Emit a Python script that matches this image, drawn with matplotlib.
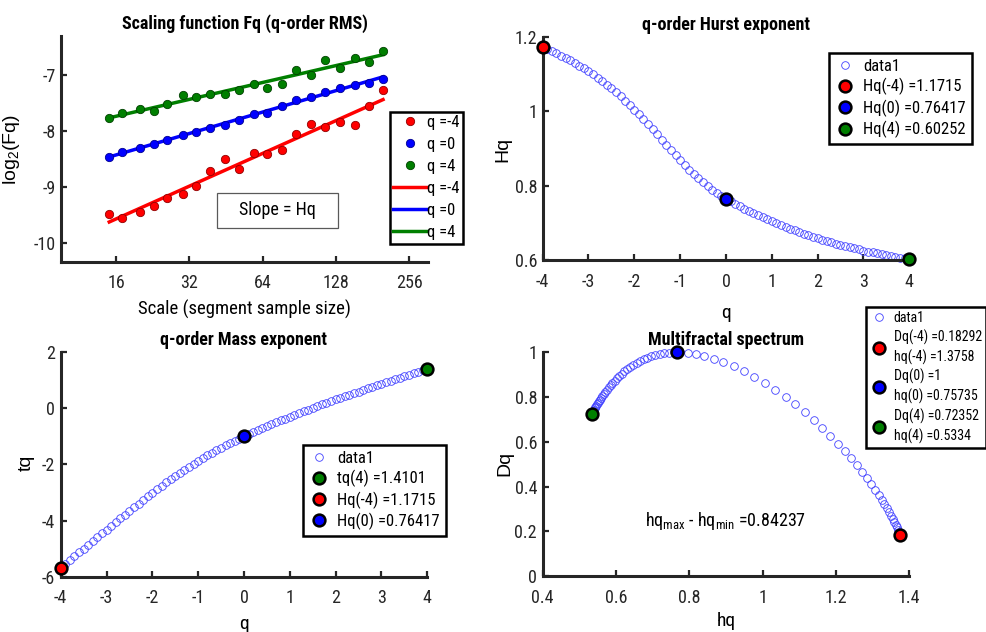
import numpy as np
import matplotlib
matplotlib.use('Agg')
from matplotlib import pyplot as plt
from matplotlib.patches import Rectangle
from matplotlib.ticker import FuncFormatter, NullLocator

# scaling function (log2 Fq) against segment size
scale = [15, 17, 20, 23, 26, 30, 34, 39, 45, 51, 59, 67, 77, 88, 101, 116, 133, 153, 175, 200]
logFq_qm4 = [-9.475, -9.546, -9.445, -9.338, -9.188, -9.117, -8.986, -8.717, -8.503, -8.676,
             -8.395, -8.401, -8.330, -8.049, -7.877, -7.930, -7.835, -7.894, -7.549, -7.268]
logFq_q0 = [-8.455, -8.371, -8.300, -8.222, -8.163, -8.067, -8.014, -7.948, -7.883, -7.805,
            -7.698, -7.674, -7.549, -7.447, -7.388, -7.298, -7.221, -7.167, -7.131, -7.060]
logFq_q4 = [-7.763, -7.680, -7.608, -7.638, -7.519, -7.346, -7.382, -7.334, -7.340, -7.262,
            -7.161, -7.233, -7.155, -6.899, -7.000, -6.732, -6.863, -6.690, -6.761, -6.565]

# q-order Hurst exponent, q = -4:0.1:4
q = np.linspace(-4, 4, 81)
Hq = np.array([1.1715, 1.1663, 1.1608, 1.1551, 1.1492, 1.1430, 1.1365, 1.1297, 1.1226, 1.1151,
               1.1073, 1.0990, 1.0903, 1.0812, 1.0716, 1.0615, 1.0510, 1.0400, 1.0285, 1.0166,
               1.0043, 0.9915, 0.9785, 0.9652, 0.9516, 0.9378, 0.9238, 0.9100, 0.8962, 0.8826,
               0.8690, 0.8558, 0.8431, 0.8310, 0.8195, 0.8085, 0.7982, 0.7886, 0.7797, 0.7716,
               0.76417, 0.7573, 0.7506, 0.7441, 0.7378, 0.7317, 0.7258, 0.7200, 0.7144, 0.7090,
               0.7037, 0.6985, 0.6936, 0.6887, 0.6840, 0.6794, 0.6750, 0.6707, 0.6666, 0.6625,
               0.6587, 0.6549, 0.6511, 0.6475, 0.6440, 0.6406, 0.6374, 0.6343, 0.6313, 0.6283,
               0.6255, 0.6228, 0.6202, 0.6177, 0.6152, 0.6129, 0.6106, 0.6085, 0.6065, 0.60429,
               0.60252])
tq = q * Hq - 1  # mass exponent

# multifractal spectrum (80 points)
hq = [1.3758, 1.3748, 1.3734, 1.3716, 1.3694, 1.3667, 1.3635, 1.3598, 1.3556, 1.3508,
      1.3454, 1.3393, 1.3325, 1.3249, 1.3164, 1.3069, 1.2963, 1.2845, 1.2714, 1.2570,
      1.2412, 1.2240, 1.2053, 1.1851, 1.1634, 1.1402, 1.1155, 1.0895, 1.0625, 1.0347,
      1.0064, 0.9778, 0.9492, 0.9209, 0.8932, 0.8665, 0.8411, 0.8173, 0.7954, 0.7756,
      0.75735, 0.7440, 0.7312, 0.7190, 0.7074, 0.6963, 0.6855, 0.6752, 0.6655, 0.6563,
      0.6473, 0.6387, 0.6306, 0.6228, 0.6155, 0.6086, 0.6021, 0.5961, 0.5904, 0.5852,
      0.5802, 0.5753, 0.5708, 0.5667, 0.5629, 0.5594, 0.5562, 0.5533, 0.5506, 0.5480,
      0.5458, 0.5437, 0.5418, 0.5401, 0.5385, 0.5371, 0.5358, 0.5348, 0.5339, 0.5334]
Dq = [0.18292, 0.1866, 0.1921, 0.1987, 0.2070, 0.2170, 0.2282, 0.2405, 0.2543, 0.2694,
      0.2854, 0.3029, 0.3214, 0.3412, 0.3626, 0.3856, 0.4105, 0.4368, 0.4648, 0.4946,
      0.5253, 0.5577, 0.5913, 0.6258, 0.6607, 0.6960, 0.7315, 0.7667, 0.8003, 0.8325,
      0.8625, 0.8899, 0.9148, 0.9367, 0.9555, 0.9708, 0.9827, 0.9914, 0.9968, 0.9994,
      1.0, 0.9984, 0.9958, 0.9922, 0.9876, 0.9820, 0.9756, 0.9685, 0.9607, 0.9523,
      0.9434, 0.9340, 0.9242, 0.9142, 0.9040, 0.8936, 0.8832, 0.8729, 0.8628, 0.8529,
      0.8429, 0.8329, 0.8233, 0.8141, 0.8053, 0.7969, 0.7889, 0.7813, 0.7741, 0.7673,
      0.7609, 0.7549, 0.7493, 0.7441, 0.7393, 0.7349, 0.7309, 0.7273, 0.7246, 0.72352]
spec_mark_h = [1.3758, 0.7660, 0.5334]
spec_mark_D = [0.18292, 1.0, 0.72352]

narrow = ['Roboto Condensed', 'Liberation Sans Narrow', 'Liberation Sans']
plt.rcParams['font.family'] = narrow
plt.rcParams['axes.titleweight'] = 'bold'
plt.rcParams['axes.unicode_minus'] = False
ink = '#262626'
red, blue, green = '#ff0000', '#0000ff', '#007f00'
ring = '#4040ff'

fig = plt.figure(figsize=(9.87, 6.32), dpi=100)
ax1 = fig.add_axes([0.0618, 0.586, 0.3718, 0.357])
ax2 = fig.add_axes([0.5498, 0.5886, 0.3714, 0.3533])
ax3 = fig.add_axes([0.0615, 0.0875, 0.3714, 0.3551])
ax4 = fig.add_axes([0.5498, 0.0886, 0.3714, 0.354])

for ax in (ax1, ax2, ax3, ax4):
    ax.spines[['top', 'right']].set_visible(False)
    for s in ('left', 'bottom'):
        ax.spines[s].set_linewidth(2.2)
        ax.spines[s].set_color(ink)
    ax.tick_params(direction='in', length=4, width=1.6, colors=ink, labelsize=13)
    ax.tick_params(axis='x', pad=9)
    ax.tick_params(axis='y', pad=4)

gfmt = FuncFormatter(lambda v, p: '%g' % v)

def legend_box(ax, handles, labels, x, y, size, **kw):
    leg = ax.legend(handles, labels, loc='upper left', bbox_to_anchor=(x, y),
                    bbox_transform=fig.transFigure, fontsize=size, fancybox=False,
                    framealpha=1, edgecolor='k', borderaxespad=0, **kw)
    leg.get_frame().set_linewidth(1.8)
    return leg

# scaling function
lx = np.log2(scale)
hs = []
for vals, c, ec in ((logFq_qm4, red, '#900000'), (logFq_q0, blue, '#000090'), (logFq_q4, green, '#004000')):
    h, = ax1.plot(scale, vals, 'o', ms=6, mfc=c, mec=ec, mew=0.6, zorder=3)
    hs.append(h)
for vals, c in ((logFq_qm4, red), (logFq_q0, blue), (logFq_q4, green)):
    p = np.polyfit(lx, vals, 1)
    h, = ax1.plot([scale[0], scale[-1]], np.polyval(p, [lx[0], lx[-1]]), color=c, lw=2.5, zorder=2)
    hs.append(h)
ax1.set_xscale('log', base=2)
ax1.set_xlim(9.5, 306)
ax1.set_ylim(-10.33, -6.3)
ax1.set_xticks([16, 32, 64, 128, 256])
ax1.set_xticklabels(['16', '32', '64', '128', '256'])
ax1.xaxis.set_minor_locator(NullLocator())
ax1.set_yticks([-10, -9, -8, -7])
ax1.set_title('Scaling function Fq (q-order RMS)', fontsize=13, pad=5)
ax1.set_xlabel('Scale (segment sample size)', fontsize=13.5)
ax1.set_ylabel(r'log$_{\mathregular{2}}$(Fq)', fontsize=14, family='Liberation Sans')
ax1.xaxis.set_label_coords(0.5, -0.17)
ax1.yaxis.set_label_coords(-0.106, 0.495)
ax1.add_patch(Rectangle((0.425, 0.149), 0.33, 0.155, transform=ax1.transAxes,
                        fill=False, ec='0.35', lw=0.9))
ax1.text(0.5886, 0.228, 'Slope = Hq', transform=ax1.transAxes, ha='center', va='center', fontsize=13)
legend_box(ax1, hs, ['q =-4', 'q =0', 'q =4', 'q =-4', 'q =0', 'q =4'], 0.395, 0.823, 12,
           handlelength=2.0, handletextpad=0.05, borderpad=0.2, labelspacing=0.42)

# Hurst exponent
d1, = ax2.plot(q, Hq, 'o', ms=5.5, mfc='none', mec=ring, mew=0.6, clip_on=False)
m1, = ax2.plot(q[0], Hq[0], 'o', ms=8.5, mfc=red, mec='k', mew=1.8, clip_on=False, zorder=5)
m2, = ax2.plot(q[40], Hq[40], 'o', ms=8.5, mfc=blue, mec='k', mew=1.8, clip_on=False, zorder=5)
m3, = ax2.plot(q[-1], Hq[-1], 'o', ms=8.5, mfc=green, mec='k', mew=1.8, clip_on=False, zorder=5)
ax2.set_xlim(-4, 4)
ax2.set_ylim(0.6, 1.2)
ax2.set_xticks(range(-4, 5))
ax2.set_yticks([0.6, 0.8, 1.0, 1.2])
ax2.yaxis.set_major_formatter(gfmt)
ax2.set_title('q-order Hurst exponent', fontsize=13, pad=5)
ax2.set_xlabel('q', fontsize=14)
ax2.set_ylabel('Hq', fontsize=14, family='Liberation Sans')
ax2.xaxis.set_label_coords(0.5, -0.195)
ax2.yaxis.set_label_coords(-0.084, 0.497)
legend_box(ax2, [d1, m1, m2, m3], ['data1', 'Hq(-4) =1.1715', 'Hq(0) =0.76417', 'Hq(4) =0.60252'],
           0.840, 0.916, 12, handlelength=1.2, handletextpad=0.5, borderpad=0.35, labelspacing=0.25)

# mass exponent
d2, = ax3.plot(q, tq, 'o', ms=5.5, mfc='none', mec=ring, mew=0.6, clip_on=False)
n1, = ax3.plot(q[-1], tq[-1], 'o', ms=8.5, mfc=green, mec='k', mew=1.8, clip_on=False, zorder=5)
n2, = ax3.plot(q[0], tq[0], 'o', ms=8.5, mfc=red, mec='k', mew=1.8, clip_on=False, zorder=5)
n3, = ax3.plot(q[40], tq[40], 'o', ms=8.5, mfc=blue, mec='k', mew=1.8, clip_on=False, zorder=5)
ax3.set_xlim(-4, 4)
ax3.set_ylim(-6, 2)
ax3.set_xticks(range(-4, 5))
ax3.set_yticks([-6, -4, -2, 0, 2])
ax3.set_title('q-order Mass exponent', fontsize=13, pad=5)
ax3.set_xlabel('q', fontsize=14)
ax3.set_ylabel('tq', fontsize=14, family='Liberation Sans')
ax3.xaxis.set_label_coords(0.5, -0.17)
ax3.yaxis.set_label_coords(-0.070, 0.507)
legend_box(ax3, [d2, n1, n2, n3], ['data1', 'tq(4) =1.4101', 'Hq(-4) =1.1715', 'Hq(0) =0.76417'],
           0.307, 0.296, 12, handlelength=1.2, handletextpad=0.5, borderpad=0.35, labelspacing=0.25)

# multifractal spectrum
d3, = ax4.plot(hq, Dq, 'o', ms=5.5, mfc='none', mec=ring, mew=0.6, clip_on=False)
k1, = ax4.plot(spec_mark_h[0], spec_mark_D[0], 'o', ms=8.5, mfc=red, mec='k', mew=1.8, clip_on=False, zorder=5)
k2, = ax4.plot(spec_mark_h[1], spec_mark_D[1], 'o', ms=8.5, mfc=blue, mec='k', mew=1.8, clip_on=False, zorder=5)
k3, = ax4.plot(spec_mark_h[2], spec_mark_D[2], 'o', ms=8.5, mfc=green, mec='k', mew=1.8, clip_on=False, zorder=5)
ax4.set_xlim(0.4, 1.4)
ax4.set_ylim(0, 1)
ax4.set_xticks([0.4, 0.6, 0.8, 1.0, 1.2, 1.4])
ax4.set_yticks([0, 0.2, 0.4, 0.6, 0.8, 1.0])
ax4.xaxis.set_major_formatter(gfmt)
ax4.yaxis.set_major_formatter(gfmt)
ax4.set_title('Multifractal spectrum', fontsize=13, pad=5)
ax4.set_xlabel('hq', fontsize=14)
ax4.set_ylabel('Dq', fontsize=14, family='Liberation Sans')
ax4.xaxis.set_label_coords(0.5, -0.16)
ax4.yaxis.set_label_coords(-0.081, 0.505)
ax4.text(0.679, 0.245, r'hq$_{\mathregular{max}}$ - hq$_{\mathregular{min}}$ =0.84237', fontsize=13, va='center')
leg4 = legend_box(ax4, [d3, k1, k2, k3],
                  ['data1', 'Dq(-4) =0.18292\nhq(-4) =1.3758', 'Dq(0) =1\nhq(0) =0.75735',
                   'Dq(4) =0.72352\nhq(4) =0.5334'],
                  0.8774, 0.5142, 10, handlelength=1.3, handletextpad=0.4, borderpad=0.3,
                  labelspacing=0.3)
for t in leg4.get_texts():
    t.set_linespacing(1.4)

fig.savefig('out.png', dpi=100)
